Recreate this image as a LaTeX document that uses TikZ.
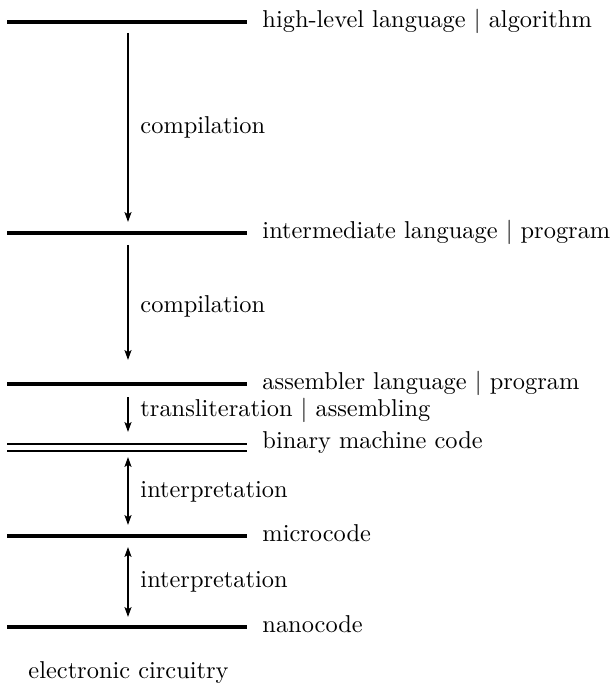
\documentclass[tikz,border=0pt]{standalone}
\usetikzlibrary{arrows.meta}

\begin{document}
\begin{tikzpicture}[x=0.41pt,y=-0.41pt,
    level/.style={line width=1.25pt},
    flow/.style={line width=0.8pt,-{Stealth[length=4pt,width=2.8pt,inset=0.8pt]}},
    twoway/.style={line width=0.8pt,{Stealth[length=4pt,width=2.8pt,inset=0.8pt]}-{Stealth[length=4pt,width=2.8pt,inset=0.8pt]}},
    lbl/.style={anchor=mid west,inner sep=0pt}]
\useasboundingbox (0,0) rectangle (613,685);
% levels
\foreach \y/\name in {22/hll, 233/ilp, 384/alp, 536/mc, 627/nc}
    \draw[level] (7,\y) coordinate (\name-w) -- (247,\y) coordinate (\name);
\draw[line width=1.05pt] (7,444) coordinate (bmc-w) -- (247,444) coordinate (bmc);
\draw[line width=1.05pt] (7,451) -- (247,451);
\node[lbl] (hll-t) at (262,22) {high-level language $|$ algorithm};
\node[lbl] (ilp-t) at (262,233) {intermediate language $|$ program};
\node[lbl] (alp-t) at (262,384) {assembler language $|$ program};
\node[lbl] (bmc-t) at (262,443) {binary machine code};
\node[lbl] (mc-t) at (262,536) {microcode};
\node[lbl] (nc-t) at (262,627) {nanocode};
\node[lbl] (ec-t) at (28,673) {electronic circuitry};
% translations
\coordinate (a1s) at (128,33);  \coordinate (a1e) at (128,222);
\coordinate (a2s) at (128,245); \coordinate (a2e) at (128,360);
\coordinate (a3s) at (128,397); \coordinate (a3e) at (128,432);
\coordinate (a4s) at (128,457); \coordinate (a4e) at (128,525);
\coordinate (a5s) at (128,547); \coordinate (a5e) at (128,617);
\draw[flow] (a1s) -- (a1e);
\draw[flow] (a2s) -- (a2e);
\draw[flow] (a3s) -- (a3e);
\draw[twoway] (a4s) -- (a4e);
\draw[twoway] (a5s) -- (a5e);
\node[lbl] (a1-t) at (140,128) {compilation};
\node[lbl] (a2-t) at (140,307) {compilation};
\node[lbl] (a3-t) at (140,411) {transliteration $|$ assembling};
\node[lbl] (a4-t) at (140,492) {interpretation};
\node[lbl] (a5-t) at (140,582) {interpretation};
\end{tikzpicture}
\end{document}
